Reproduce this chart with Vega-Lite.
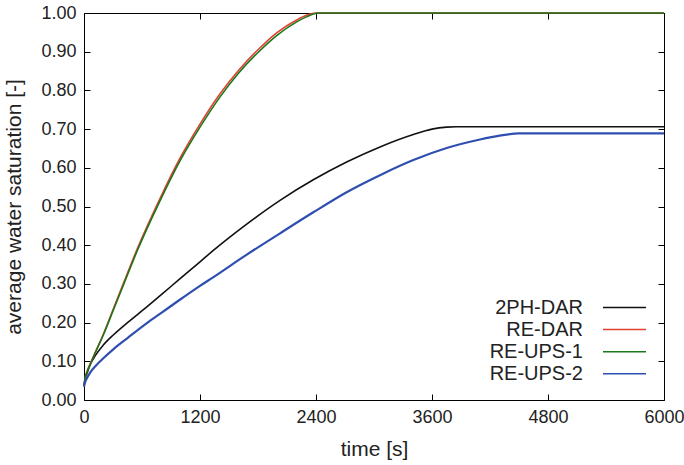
{
  "$schema": "https://vega.github.io/schema/vega-lite/v6.json",
  "width": 580,
  "height": 387,
  "autosize": {"type": "none"},
  "padding": {"left": 84, "top": 13, "right": 20, "bottom": 65},
  "background": "white",
  "config": {
    "font": "Liberation Sans",
    "view": {"stroke": "#000", "strokeWidth": 1},
    "axis": {
      "grid": false,
      "domain": false,
      "tickColor": "#000",
      "tickSize": -6,
      "tickWidth": 1,
      "labelColor": "#222",
      "labelFont": "Liberation Sans",
      "labelFontSize": 18,
      "titleFont": "Liberation Sans",
      "titleFontSize": 21,
      "titleFontWeight": "normal",
      "titleColor": "#222",
      "labelFlush": false,
      "labelOverlap": false
    },
    "legend": {
      "orient": "none",
      "legendX": 529.5,
      "legendY": 283.5,
      "title": null,
      "symbolType": "M-2.15,0H2.15",
      "symbolSize": 400,
      "symbolStrokeWidth": 1.5,
      "labelAlign": "right",
      "labelOffset": -52.5,
      "labelFont": "Liberation Sans",
      "labelFontSize": 20,
      "labelColor": "#222",
      "labelLimit": 0,
      "rowPadding": 1.1,
      "padding": 0
    }
  },
  "datasets": {
    "curves": [
      {"series": "2PH-DAR", "t": 0, "s": 0.035},
      {"series": "2PH-DAR", "t": 10, "s": 0.052},
      {"series": "2PH-DAR", "t": 30, "s": 0.068},
      {"series": "2PH-DAR", "t": 62, "s": 0.09},
      {"series": "2PH-DAR", "t": 120, "s": 0.116},
      {"series": "2PH-DAR", "t": 200, "s": 0.142},
      {"series": "2PH-DAR", "t": 303, "s": 0.168},
      {"series": "2PH-DAR", "t": 450, "s": 0.2},
      {"series": "2PH-DAR", "t": 647, "s": 0.24},
      {"series": "2PH-DAR", "t": 800, "s": 0.272},
      {"series": "2PH-DAR", "t": 991, "s": 0.313},
      {"series": "2PH-DAR", "t": 1200, "s": 0.357},
      {"series": "2PH-DAR", "t": 1335, "s": 0.386},
      {"series": "2PH-DAR", "t": 1680, "s": 0.454},
      {"series": "2PH-DAR", "t": 2028, "s": 0.516},
      {"series": "2PH-DAR", "t": 2372, "s": 0.569},
      {"series": "2PH-DAR", "t": 2717, "s": 0.615},
      {"series": "2PH-DAR", "t": 3062, "s": 0.654},
      {"series": "2PH-DAR", "t": 3407, "s": 0.686},
      {"series": "2PH-DAR", "t": 3600, "s": 0.7},
      {"series": "2PH-DAR", "t": 3752, "s": 0.705},
      {"series": "2PH-DAR", "t": 3850, "s": 0.706},
      {"series": "2PH-DAR", "t": 6000, "s": 0.706},
      {"series": "RE-DAR", "t": 0, "s": 0.035},
      {"series": "RE-DAR", "t": 10, "s": 0.055},
      {"series": "RE-DAR", "t": 30, "s": 0.072},
      {"series": "RE-DAR", "t": 62, "s": 0.092},
      {"series": "RE-DAR", "t": 120, "s": 0.125},
      {"series": "RE-DAR", "t": 200, "s": 0.17},
      {"series": "RE-DAR", "t": 303, "s": 0.235},
      {"series": "RE-DAR", "t": 406, "s": 0.3},
      {"series": "RE-DAR", "t": 550, "s": 0.39},
      {"series": "RE-DAR", "t": 785, "s": 0.52},
      {"series": "RE-DAR", "t": 1000, "s": 0.628},
      {"series": "RE-DAR", "t": 1200, "s": 0.713},
      {"series": "RE-DAR", "t": 1404, "s": 0.79},
      {"series": "RE-DAR", "t": 1600, "s": 0.852},
      {"series": "RE-DAR", "t": 1800, "s": 0.905},
      {"series": "RE-DAR", "t": 2000, "s": 0.95},
      {"series": "RE-DAR", "t": 2200, "s": 0.982},
      {"series": "RE-DAR", "t": 2300, "s": 0.994},
      {"series": "RE-DAR", "t": 2400, "s": 1.0},
      {"series": "RE-DAR", "t": 6000, "s": 1.0},
      {"series": "RE-UPS-1", "t": 0, "s": 0.035},
      {"series": "RE-UPS-1", "t": 10, "s": 0.055},
      {"series": "RE-UPS-1", "t": 30, "s": 0.072},
      {"series": "RE-UPS-1", "t": 62, "s": 0.091},
      {"series": "RE-UPS-1", "t": 120, "s": 0.124},
      {"series": "RE-UPS-1", "t": 200, "s": 0.168},
      {"series": "RE-UPS-1", "t": 303, "s": 0.232},
      {"series": "RE-UPS-1", "t": 406, "s": 0.296},
      {"series": "RE-UPS-1", "t": 550, "s": 0.385},
      {"series": "RE-UPS-1", "t": 785, "s": 0.514},
      {"series": "RE-UPS-1", "t": 1000, "s": 0.621},
      {"series": "RE-UPS-1", "t": 1200, "s": 0.705},
      {"series": "RE-UPS-1", "t": 1404, "s": 0.782},
      {"series": "RE-UPS-1", "t": 1600, "s": 0.845},
      {"series": "RE-UPS-1", "t": 1800, "s": 0.898},
      {"series": "RE-UPS-1", "t": 2000, "s": 0.943},
      {"series": "RE-UPS-1", "t": 2200, "s": 0.977},
      {"series": "RE-UPS-1", "t": 2300, "s": 0.99},
      {"series": "RE-UPS-1", "t": 2430, "s": 1.0},
      {"series": "RE-UPS-1", "t": 6000, "s": 1.0},
      {"series": "RE-UPS-2", "t": 0, "s": 0.035},
      {"series": "RE-UPS-2", "t": 10, "s": 0.045},
      {"series": "RE-UPS-2", "t": 30, "s": 0.056},
      {"series": "RE-UPS-2", "t": 62, "s": 0.07},
      {"series": "RE-UPS-2", "t": 120, "s": 0.088},
      {"series": "RE-UPS-2", "t": 200, "s": 0.108},
      {"series": "RE-UPS-2", "t": 303, "s": 0.131},
      {"series": "RE-UPS-2", "t": 450, "s": 0.16},
      {"series": "RE-UPS-2", "t": 647, "s": 0.198},
      {"series": "RE-UPS-2", "t": 800, "s": 0.225},
      {"series": "RE-UPS-2", "t": 991, "s": 0.259},
      {"series": "RE-UPS-2", "t": 1200, "s": 0.295},
      {"series": "RE-UPS-2", "t": 1335, "s": 0.317},
      {"series": "RE-UPS-2", "t": 1680, "s": 0.375},
      {"series": "RE-UPS-2", "t": 2024, "s": 0.43},
      {"series": "RE-UPS-2", "t": 2372, "s": 0.485},
      {"series": "RE-UPS-2", "t": 2717, "s": 0.537},
      {"series": "RE-UPS-2", "t": 3062, "s": 0.581},
      {"series": "RE-UPS-2", "t": 3407, "s": 0.62},
      {"series": "RE-UPS-2", "t": 3752, "s": 0.651},
      {"series": "RE-UPS-2", "t": 4097, "s": 0.673},
      {"series": "RE-UPS-2", "t": 4300, "s": 0.683},
      {"series": "RE-UPS-2", "t": 4500, "s": 0.689},
      {"series": "RE-UPS-2", "t": 6000, "s": 0.689}
    ]
  },
  "layer": [
    {
      "data": {"name": "curves"},
      "mark": {"type": "line", "interpolate": "monotone"},
      "encoding": {
        "x": {
          "field": "t",
          "type": "quantitative",
          "scale": {"domain": [0, 6000], "nice": false},
          "axis": {"values": [0, 1200, 2400, 3600, 4800, 6000], "format": "d", "title": "time [s]", "labelPadding": 14, "titlePadding": 12}
        },
        "y": {
          "field": "s",
          "type": "quantitative",
          "scale": {"domain": [0, 1], "nice": false},
          "axis": {"values": [0, 0.1, 0.2, 0.3, 0.4, 0.5, 0.6, 0.7, 0.8, 0.9, 1.0], "format": ".2f", "title": "average water saturation [-]", "labelPadding": 14, "titlePadding": 16}
        },
        "color": {
          "field": "series",
          "type": "nominal",
          "sort": ["2PH-DAR", "RE-DAR", "RE-UPS-1", "RE-UPS-2"],
          "scale": {"domain": ["2PH-DAR", "RE-DAR", "RE-UPS-1", "RE-UPS-2"], "range": ["#111111", "#e0402f", "#1c761c", "#2f4fb0"]},
          "legend": {"encode": {"symbols": {"update": {"strokeWidth": {"value": 1.5}}}}}
        },
        "strokeWidth": {
          "condition": {"test": "datum.series === 'RE-UPS-2'", "value": 2.2},
          "value": 1.6
        }
      }
    },
    {
      "data": {"name": "curves"},
      "mark": {"type": "line", "opacity": 0},
      "encoding": {
        "x": {
          "field": "t",
          "type": "quantitative",
          "axis": {"orient": "top", "values": [0, 1200, 2400, 3600, 4800, 6000], "labels": false, "title": null}
        },
        "y": {
          "field": "s",
          "type": "quantitative",
          "axis": {"orient": "right", "values": [0, 0.1, 0.2, 0.3, 0.4, 0.5, 0.6, 0.7, 0.8, 0.9, 1.0], "labels": false, "title": null}
        }
      }
    }
  ],
  "resolve": {"axis": {"x": "independent", "y": "independent"}}
}
